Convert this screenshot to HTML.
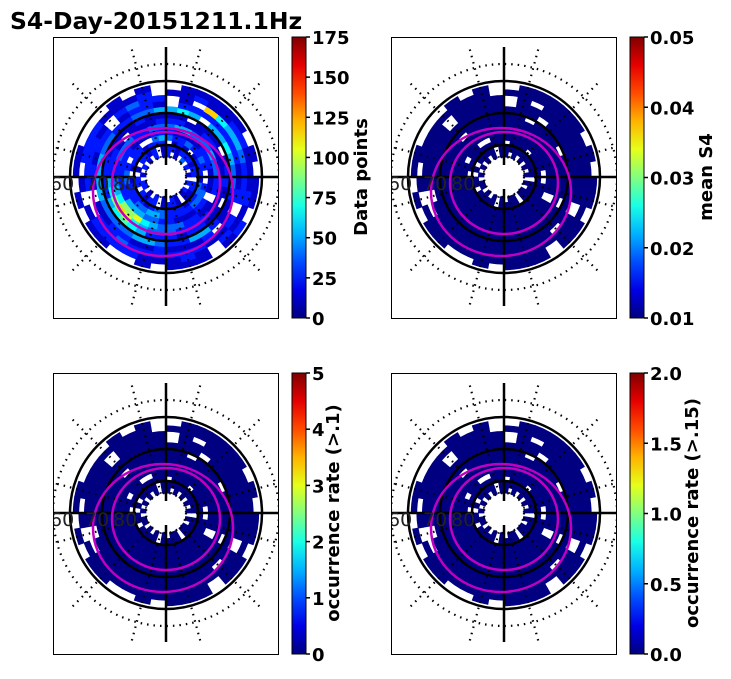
<!DOCTYPE html>
<html><head><meta charset="utf-8"><style>
body{margin:0;background:#fff;width:731px;height:674px;overflow:hidden}
svg text{font-family:"DejaVu Sans","Liberation Sans",sans-serif}
</style></head><body>
<svg id="s" width="731" height="674" xmlns="http://www.w3.org/2000/svg">
<text x="10" y="29" font-size="23.5" font-weight="bold">S4-Day-20151211.1Hz</text>
</svg>
<script>
// ring occupancy/value data, inner ring first, sectors clockwise (10° each)
const ringData1 = [
"3.2.1.2.21.12.1.2.1.22.1.2.1.2.12.1.",
"22122.2211.1221.2212.22.1.2212.12212",
".1222133221222332122221.12221222.121",
"2232..2333222234433222332.22..343223",
"1222111.2211122334442222222111222111",
"3343322.1122333458775432233322333443",
"221112111222233345897542221.11122211",
"11.1221.11221222456542222111121111.1",
"44543321124422344333344443322334454.",
"2222112.1.21112112211.12122.1221.222",
"5443222.211222222322..22221.2322.1.9",
"1221112112.1211122221.1.2221112.1121",
"11.1.11.21.111.1..11.1.11...1.1..111"];
const cbMax = [175, 0.05, 5, 2.0];
const cbMin = [0, 0.01, 0, 0];
const cbTicks = [["0","25","50","75","100","125","150","175"],["0.01","0.02","0.03","0.04","0.05"],["0","1","2","3","4","5"],["0.0","0.5","1.0","1.5","2.0"]];
const cbLabels = ["Data points","mean S4","occurrence rate (>.1)","occurrence rate (>.15)"];
const panels = [{x:53,y:37},{x:391,y:37},{x:53,y:373},{x:391,y:373}];
const svg = document.getElementById('s');
const NS = 'http://www.w3.org/2000/svg';
function jet(t){t=Math.max(0,Math.min(1,t));
 const f=(a)=>Math.round(255*Math.max(0,Math.min(1,a)));
 const r=f(Math.min(4*t-1.5,-4*t+4.5)),g=f(Math.min(4*t-0.5,-4*t+3.5)),b=f(Math.min(4*t+0.5,-4*t+2.5));
 return `rgb(${r},${g},${b})`;}
function el(tag,attrs,parent){const e=document.createElementNS(NS,tag);for(const k in attrs)e.setAttribute(k,attrs[k]);(parent||svg).appendChild(e);return e;}
function sector(cx,cy,r0,r1,a0,a1){const p=(r,a)=>[cx+r*Math.sin(a),cy-r*Math.cos(a)];
 const A=p(r0,a0),B=p(r1,a0),C=p(r1,a1),D=p(r0,a1);
 return `M${A}L${B}A${r1},${r1} 0 0 1 ${C}L${D}A${r0},${r0} 0 0 0 ${A}Z`;}
panels.forEach((P,pi)=>{
 const g=el('g',{});
 
 
 const cx=P.x+113, cy=P.y+140;
 const clip=el('clipPath',{id:'c'+pi},g);el('rect',{x:P.x,y:P.y,width:225,height:281},clip);
 const inner=el('g',{'clip-path':`url(#c${pi})`},g);
 ringData1.forEach((row,ri)=>{
  for(let k=0;k<36;k++){const ch=row[k]||'.';if(ch==='.')continue;
   const v=pi===0?(+ch)*13:0;
   const t=v/175;
   const kk=k+4;
   const col=jet(t);
   const c=el('path',{d:sector(cx,cy,20+ri*5.6,20+(ri+1)*5.6,kk*Math.PI/18,(kk+1)*Math.PI/18),fill:col,stroke:col,'stroke-width':0.8},inner);
   
   }
 });
 for(let i=0;i<12;i++){const a=(15+30*i)*Math.PI/180;
  el('line',{x1:cx+20*Math.sin(a),y1:cy-20*Math.cos(a),x2:cx+135*Math.sin(a),y2:cy-135*Math.cos(a),stroke:'#000','stroke-width':2.2,'stroke-dasharray':'1.5 5'},inner);}
 el('circle',{cx,cy,r:113,fill:'none',stroke:'#000','stroke-width':2.2,'stroke-dasharray':'1.5 5'},inner);
 el('circle',{cx,cy,r:20,fill:'none',stroke:'#000','stroke-width':2.2,'stroke-dasharray':'1.5 5'},inner);
 [96,64,32].forEach(r=>el('circle',{cx,cy,r,fill:'none',stroke:'#000','stroke-width':2.5},inner));
 el('line',{x1:cx,y1:P.y+10,x2:cx,y2:cy-12,stroke:'#000','stroke-width':2.5},inner);
 el('line',{x1:cx,y1:cy+12,x2:cx,y2:P.y+269,stroke:'#000','stroke-width':2.5},inner);
 el('line',{x1:P.x,y1:cy,x2:cx-30,y2:cy,stroke:'#000','stroke-width':2.5},inner);
 el('line',{x1:cx+30,y1:cy,x2:P.x+225,y2:cy,stroke:'#000','stroke-width':2.5},inner);
 el('ellipse',{cx:cx-3,cy:cy+15,rx:70,ry:64,fill:'none',stroke:'#c000c0','stroke-width':2.5},inner);
 el('ellipse',{cx:cx,cy:cy+6,rx:54,ry:51,fill:'none',stroke:'#c000c0','stroke-width':2.5},inner);
 [['60',P.x-3],['70',P.x+32],['80',P.x+60]].forEach(([s,x])=>{
  const lb=el('text',{x:x,y:cy+13,'font-size':19,fill:'#222'},inner);lb.textContent=s;
  
  });
 el('rect',{x:P.x+0.5,y:P.y+0.5,width:225,height:281,fill:'none',stroke:'#000','stroke-width':1},g);
 const bx=P.x+239, by=P.y, bh=281;
 const cb=el('g',{});
 
 
 const grad=el('linearGradient',{id:'gr'+pi,x1:0,y1:1,x2:0,y2:0},cb);
 for(let i=0;i<=10;i++)el('stop',{offset:i/10,'stop-color':jet(i/10)},grad);
 el('rect',{x:bx,y:by,width:14,height:bh,fill:`url(#gr${pi})`,stroke:'#000','stroke-width':1},cb);
 cbTicks[pi].forEach(s=>{const v=parseFloat(s);const y=by+bh-(v-cbMin[pi])/(cbMax[pi]-cbMin[pi])*bh;
  el('line',{x1:bx+14,y1:y,x2:bx+18,y2:y,stroke:'#000','stroke-width':1.5},cb);
  const t=el('text',{x:bx+20,y:y+7,'font-size':18,'font-weight':'bold'},cb);t.textContent=s;
  
  });
 const lx=[367,712,339,698][pi];
 const L=el('text',{x:lx,y:cy,'font-size':18,'font-weight':'bold','text-anchor':'middle',transform:`rotate(-90 ${lx} ${cy})`},cb);
 L.textContent=cbLabels[pi];
 
 
});
</script>
</body></html>
